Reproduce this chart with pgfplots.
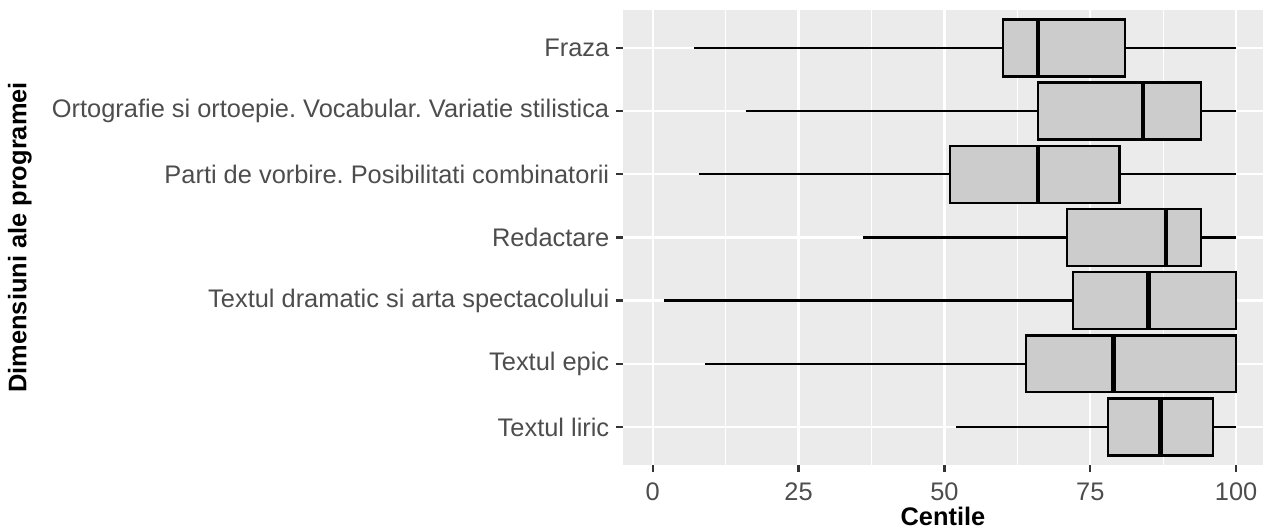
\documentclass[border=0pt]{standalone}
\usepackage{fontspec}
\setmainfont{Liberation Sans}
\usepackage{pgfplots}
\pgfplotsset{compat=1.18}
\usepgfplotslibrary{statistics}

\definecolor{panel}{HTML}{EBEBEB}
\definecolor{boxfill}{HTML}{CCCCCC}
\definecolor{ticklab}{HTML}{4D4D4D}
\definecolor{tickcol}{HTML}{333333}

\begin{document}
\frenchspacing
\fontsize{12}{14}\selectfont
\begin{tikzpicture}
  % fixed frame: 1 px of the reference = 0.4706bp
  \useasboundingbox (-293.2bp,-29.6bp) rectangle (301.2bp,218.8bp);
  \begin{axis}[
      width=301.2bp, height=214.1bp, scale only axis,
      xmin=-5.1, xmax=104.6, ymin=0.4, ymax=7.6,
      xtick={0,25,50,75,100},
      minor xtick={12.5,37.5,62.5,87.5},
      ytick={1,...,7},
      yticklabels={Textul liric, Textul epic,
        Textul dramatic si arta spectacolului, Redactare,
        Parti de vorbire. Posibilitati combinatorii,
        Ortografie si ortoepie. Vocabular. Variatie stilistica, Fraza},
      /pgf/number format/assume math mode=true,
      tick label style={font=\fontsize{12}{14}\selectfont, text=ticklab},
      xticklabel style={yshift=-1bp},
      yticklabel style={xshift=1bp},
      tick pos=left, tick align=outside,
      major tick length=3.3bp, minor tick length=0pt,
      tick style={draw=tickcol, line width=1.1bp},
      axis line style={draw=none},
      axis background/.style={fill=panel},
      xmajorgrids, ymajorgrids, xminorgrids,
      major grid style={white, line width=1.1bp},
      minor grid style={white, line width=0.55bp},
      xlabel={\bfseries Centile},
      ylabel={\bfseries Dimensiuni ale programei},
      xlabel style={at={(axis description cs:0.5,-0.113)}, anchor=center},
      ylabel style={at={(axis description cs:-0.9422,0.5)}, anchor=center},
      label style={font=\fontsize{12}{14}\selectfont},
      boxplot/box extend=0.9,
      boxplot/whisker extend=0,
      boxplot/every median/.style={line width=2.1bp},
      boxplot/every whisker/.style={line width=1.1bp},
      every axis plot/.append style={draw=black, fill=boxfill, line width=1.1bp},
    ]
    % Fraza
    \addplot[boxplot prepared={lower whisker=7, lower quartile=60, median=66,
      upper quartile=81, upper whisker=100, draw position=7}] coordinates {};
    % Ortografie
    \addplot[boxplot prepared={lower whisker=16, lower quartile=66, median=84,
      upper quartile=94, upper whisker=100, draw position=6}] coordinates {};
    % Parti de vorbire
    \addplot[boxplot prepared={lower whisker=8, lower quartile=51, median=66,
      upper quartile=80, upper whisker=100, draw position=5}] coordinates {};
    % Redactare
    \addplot[boxplot prepared={lower whisker=36, lower quartile=71, median=88,
      upper quartile=94, upper whisker=100, draw position=4}] coordinates {};
    % Textul dramatic
    \addplot[boxplot prepared={lower whisker=2, lower quartile=72, median=85,
      upper quartile=100, upper whisker=100, draw position=3}] coordinates {};
    % Textul epic
    \addplot[boxplot prepared={lower whisker=9, lower quartile=64, median=79,
      upper quartile=100, upper whisker=100, draw position=2}] coordinates {};
    % Textul liric
    \addplot[boxplot prepared={lower whisker=52, lower quartile=78, median=87,
      upper quartile=96, upper whisker=100, draw position=1}] coordinates {};
  \end{axis}
\end{tikzpicture}
\end{document}
